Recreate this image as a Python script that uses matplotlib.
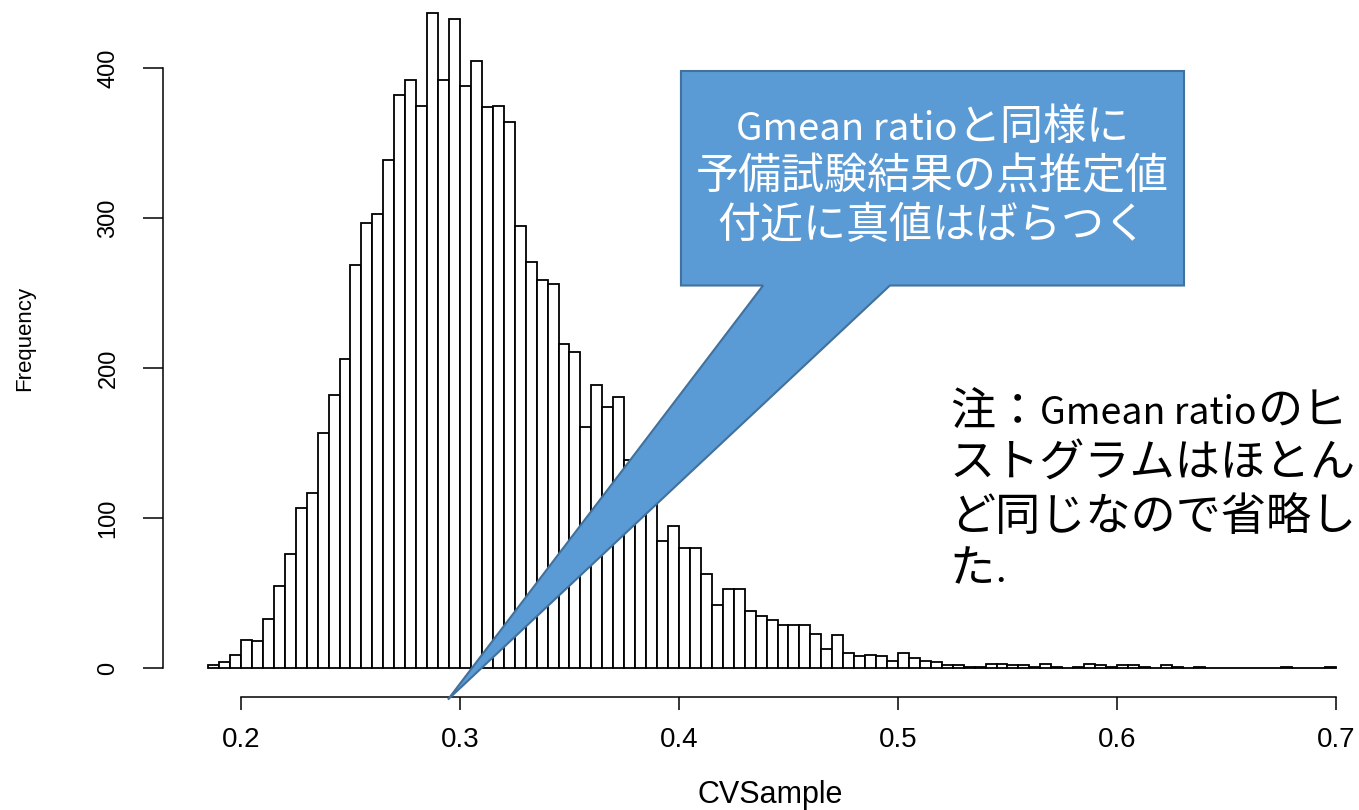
from itertools import groupby

import numpy as np
import matplotlib
matplotlib.use("Agg")
import matplotlib.pyplot as plt
from matplotlib.patches import Polygon
from matplotlib.offsetbox import TextArea, HPacker, AnnotationBbox

# histogram of the sampled CV values: first bin edge, bin width, count per bin
BIN_START = 0.185
BIN_WIDTH = 0.005
counts = [2, 4, 9, 19, 18, 33, 55, 76, 107, 117,
          157, 182, 206, 269, 297, 303, 339, 382, 392, 375,
          437, 392, 433, 388, 405, 374, 375, 364, 295, 271,
          259, 256, 216, 211, 161, 189, 174, 181, 139, 128,
          112, 85, 95, 80, 80, 63, 42, 53, 53, 38,
          35, 32, 29, 29, 29, 23, 13, 22, 10, 8,
          9, 8, 5, 10, 7, 5, 4, 2, 2, 1,
          1, 3, 3, 2, 2, 1, 3, 1, 0, 1,
          3, 2, 1, 2, 2, 1, 0, 2, 1, 0,
          1, 0, 0, 0, 0, 0, 0, 0, 1, 0,
          0, 0, 1]

x_ticks = [0.2, 0.3, 0.4, 0.5, 0.6, 0.7]
x_ticklabels = ["0.2", "0.3", "0.4", "0.5", "0.6", "0.7"]
y_ticks = [0, 100, 200, 300, 400]

callout_lines = ["Gmean ratioと同様に", "予備試験結果の点推定値", "付近に真値はばらつく"]
note_lines = ["注：Gmean ratioのヒ", "ストグラムはほとん", "ど同じなので省略し", "た."]

R_FONT = ["Liberation Sans", "DejaVu Sans"]
JP_FONT = ["Noto Sans CJK JP", "DejaVu Sans"]
BLUE = "#5B9BD5"
BLUE_EDGE = "#41719C"


def mixed_text(ax, xy, line, size, latin_scale, color, align_x):
    """Place one line of Japanese text; ASCII runs are set a bit smaller
    so the Latin words come out as narrow as in a Calibri/Meiryo slide."""
    parts = []
    for is_latin, chars in groupby(line, key=str.isascii):
        fs = size * latin_scale if is_latin else size
        parts.append(TextArea("".join(chars),
                              textprops=dict(fontfamily=JP_FONT, fontsize=fs,
                                             color=color)))
    row = HPacker(children=parts, align="baseline", pad=0, sep=0)
    ab = AnnotationBbox(row, xy, xycoords="data", box_alignment=(align_x, 0.5),
                        frameon=False, pad=0, annotation_clip=False, zorder=6)
    ax.add_artist(ab)


fig = plt.figure(figsize=(13.59, 8.10), dpi=100, facecolor="white")
# axes box in pixels: left 180, right 1345, top 5, bottom 680
ax = fig.add_axes([180 / 1359, 130 / 810, 1165 / 1359, 675 / 810])
ax.set_xlim(0.17215, 0.70411)
ax.set_ylim(-8, 442)

left_edges = BIN_START + BIN_WIDTH * np.arange(len(counts))
ax.bar(left_edges, counts, width=BIN_WIDTH, align="edge",
       facecolor="white", edgecolor="black", linewidth=1.3, zorder=2)

# R-style detached axes
for side in ("top", "right"):
    ax.spines[side].set_visible(False)
ax.spines["left"].set_position(("outward", 12.2))
ax.spines["bottom"].set_position(("outward", 12.2))
ax.spines["left"].set_bounds(0, 400)
ax.spines["bottom"].set_bounds(0.2, 0.7)
for side in ("left", "bottom"):
    ax.spines[side].set_linewidth(1.1)

ax.set_xticks(x_ticks)
ax.set_xticklabels(x_ticklabels, fontfamily=R_FONT, fontsize=20)
ax.set_yticks(y_ticks)
ax.set_yticklabels([str(v) for v in y_ticks], rotation=90, va="center",
                   fontfamily=R_FONT, fontsize=17)
ax.tick_params(axis="x", length=9.4, width=1.1, pad=12)
ax.tick_params(axis="y", length=14.4, width=1.1, pad=17)

fig.text(770 / 1359, 1 - 795 / 810, "CVSample", ha="center", va="center",
         fontfamily=R_FONT, fontsize=22)
fig.text(25 / 1359, 1 - 338 / 810, "Frequency", ha="center", va="center",
         rotation=90, fontfamily=R_FONT, fontsize=16)

# speech-bubble callout pointing down at the point estimate
bx0, bx1, by0, by1 = 0.4009, 0.6306, 255, 398
wb0, wb1 = 0.4384, 0.4963
tip = (0.2945, -21)
bubble = Polygon([(bx0, by1), (bx1, by1), (bx1, by0), (wb1, by0), tip,
                  (wb0, by0), (bx0, by0)], closed=True,
                 facecolor=BLUE, edgecolor=BLUE_EDGE, linewidth=1.5,
                 clip_on=False, zorder=5)
ax.add_patch(bubble)
for i, line in enumerate(callout_lines):
    mixed_text(ax, ((bx0 + bx1) / 2, 360 - 32.7 * i), line, 31, 0.89,
               "white", 0.5)

for i, line in enumerate(note_lines):
    mixed_text(ax, (0.5237, 171 - 35 * i), line, 32.5, 0.83, "black", 0.0)

fig.savefig("out.png", dpi=100, facecolor="white")
plt.close(fig)
